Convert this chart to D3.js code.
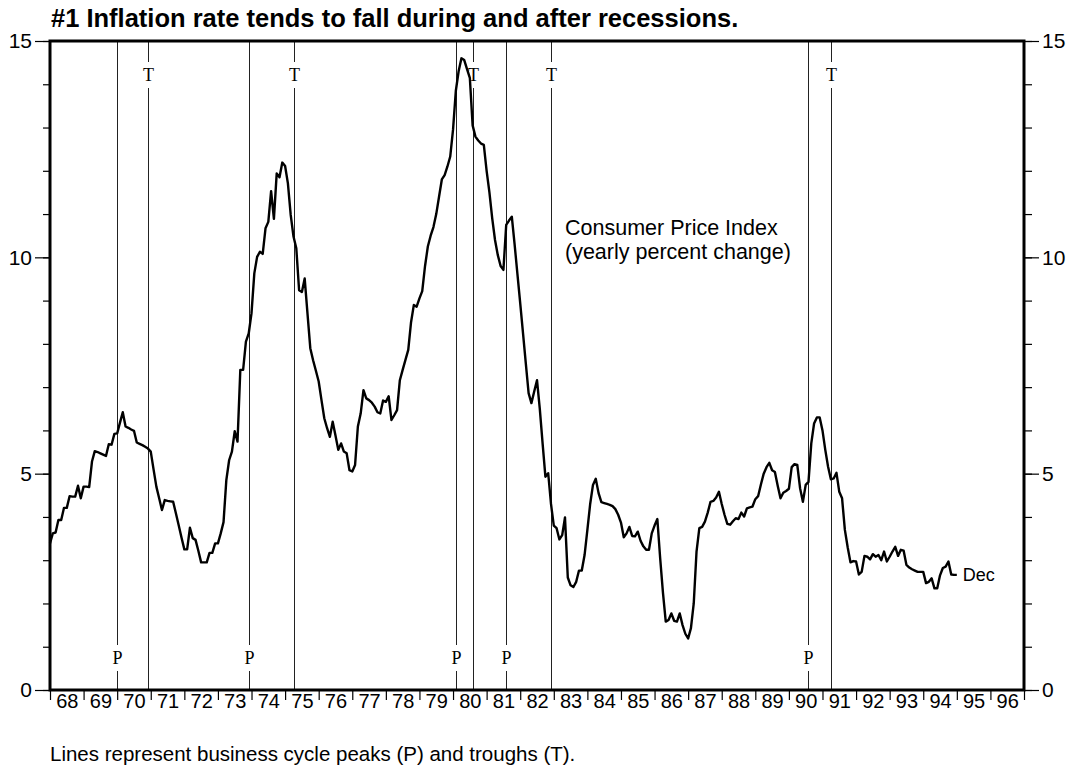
<!DOCTYPE html>
<html>
<head>
<meta charset="utf-8">
<script src="https://cdn.jsdelivr.net/npm/d3@7/dist/d3.min.js"></script>
<style>
  body { margin: 0; background: #fff; }
  text { font-family: "Liberation Sans", Arial, sans-serif; fill: #000; }
</style>
</head>
<body>
<svg id="chart" width="1073" height="768"></svg>
<script>
// CPI, yearly percent change, one value per month.
// first value is Dec 1967 (sits on the left axis), then Jan 1968 .. Dec 1994
var cpiYoY = [
  3.39,
  3.62, 3.64, 3.93, 3.93, 4.21, 4.21, 4.48, 4.47, 4.47, 4.72, 4.43, 4.70, // 68
  4.70, 4.69, 5.28, 5.52, 5.50, 5.47, 5.44, 5.41, 5.68, 5.67, 5.92, 5.93, // 69
  6.18, 6.42, 6.09, 6.06, 6.02, 5.99, 5.72, 5.69, 5.66, 5.62, 5.58, 5.51, // 70
  5.10, 4.70, 4.43, 4.16, 4.39, 4.37, 4.36, 4.35, 4.08, 3.80, 3.52, 3.25, // 71
  3.25, 3.75, 3.51, 3.47, 3.22, 2.95, 2.95, 2.95, 3.17, 3.17, 3.39, 3.39, // 72
  3.62, 3.88, 4.85, 5.31, 5.51, 5.98, 5.74, 7.40, 7.40, 8.05, 8.24, 8.71, // 73
  9.63, 10.01, 10.13, 10.08, 10.67, 10.82, 11.53, 10.89, 11.94, 11.85, 12.19, 12.11, // 74
  11.71, 10.98, 10.48, 10.21, 9.24, 9.20, 9.51, 8.70, 7.90, 7.62, 7.38, 7.13, // 75
  6.70, 6.28, 6.05, 5.85, 6.20, 5.88, 5.55, 5.70, 5.51, 5.47, 5.08, 5.05, // 76
  5.20, 6.09, 6.39, 6.93, 6.74, 6.70, 6.64, 6.55, 6.42, 6.39, 6.69, 6.66, // 77
  6.79, 6.24, 6.35, 6.47, 7.16, 7.40, 7.63, 7.86, 8.50, 8.90, 8.86, 9.05, // 78
  9.22, 9.80, 10.25, 10.50, 10.70, 11.00, 11.40, 11.80, 11.90, 12.10, 12.33, 12.95, // 79
  13.85, 14.30, 14.60, 14.56, 14.35, 14.15, 13.05, 12.79, 12.70, 12.63, 12.60, 12.00, // 80
  11.50, 10.90, 10.40, 10.05, 9.80, 9.71, 10.75, 10.85, 10.94, 10.30, 9.62, 8.94, // 81
  8.25, 7.55, 6.86, 6.63, 6.90, 7.16, 6.50, 5.70, 4.93, 5.01, 4.30, 3.80, // 82
  3.74, 3.48, 3.58, 3.99, 2.60, 2.42, 2.38, 2.50, 2.76, 2.76, 3.12, 3.70, // 83
  4.30, 4.74, 4.88, 4.55, 4.34, 4.32, 4.30, 4.28, 4.25, 4.18, 4.05, 3.87, // 84
  3.53, 3.62, 3.77, 3.56, 3.55, 3.66, 3.45, 3.32, 3.24, 3.24, 3.62, 3.80, // 85
  3.95, 3.05, 2.25, 1.58, 1.62, 1.77, 1.60, 1.58, 1.77, 1.50, 1.30, 1.19, // 86
  1.43, 2.00, 3.20, 3.74, 3.77, 3.89, 4.10, 4.35, 4.37, 4.45, 4.58, 4.30, // 87
  4.05, 3.84, 3.82, 3.90, 3.97, 3.95, 4.10, 4.01, 4.20, 4.22, 4.24, 4.41, // 88
  4.48, 4.75, 5.00, 5.15, 5.25, 5.08, 5.04, 4.72, 4.43, 4.56, 4.60, 4.65, // 89
  5.15, 5.22, 5.20, 4.66, 4.35, 4.74, 4.81, 5.70, 6.16, 6.30, 6.30, 6.00, // 90
  5.55, 5.16, 4.87, 4.89, 5.02, 4.58, 4.43, 3.70, 3.30, 2.95, 2.98, 2.97, // 91
  2.67, 2.73, 3.10, 3.08, 3.02, 3.14, 3.08, 3.12, 3.00, 3.20, 2.97, 3.08, // 92
  3.20, 3.31, 3.10, 3.24, 3.22, 2.89, 2.83, 2.79, 2.76, 2.73, 2.73, 2.73, // 93
  2.47, 2.50, 2.58, 2.35, 2.35, 2.65, 2.82, 2.85, 2.97, 2.67, 2.66, 2.66  // 94
];
var seriesStart = 1968; // decimal year of cpiYoY[0]

// business cycle peaks and troughs (year, month)
var peaks = [[1969, 12], [1973, 11], [1980, 1], [1981, 7], [1990, 7]];
var troughs = [[1970, 11], [1975, 3], [1980, 7], [1982, 11], [1991, 3]];

var yearLabels = ["68","69","70","71","72","73","74","75","76","77","78","79","80","81","82",
                  "83","84","85","86","87","88","89","90","91","92","93","94","95","96"];
var yMajor = [0, 5, 10, 15];
var yMinor = d3.range(0, 16);

var svg = d3.select("#chart");
var L = 50, R = 1024, T = 41, B = 690;

var x = d3.scaleLinear().domain([1968, 1997]).range([L, R]);
var y = d3.scaleLinear().domain([0, 15]).range([B, T]);

// title
svg.append("text")
  .attr("x", 51).attr("y", 27)
  .attr("font-size", 25.5).attr("font-weight", "bold")
  .text("#1 Inflation rate tends to fall during and after recessions.");

// cycle lines, with a gap for the letter
function cycleLines(list, letter, labelY) {
  var g = svg.append("g");
  list.forEach(function (d) {
    var xx = Math.round(x(d[0] + d[1] / 12)) + 0.5;
    g.append("line").attr("x1", xx).attr("x2", xx).attr("y1", T).attr("y2", labelY - 13)
      .attr("stroke", "#222").attr("stroke-width", 1);
    g.append("line").attr("x1", xx).attr("x2", xx).attr("y1", labelY + 13).attr("y2", B)
      .attr("stroke", "#222").attr("stroke-width", 1);
    g.append("text").attr("x", xx).attr("y", labelY)
      .attr("text-anchor", "middle").attr("dominant-baseline", "central")
      .style("font-family", "'Liberation Serif', 'Times New Roman', serif")
      .attr("font-size", 18).text(letter);
  });
}
cycleLines(troughs, "T", 75);
cycleLines(peaks, "P", 658);

// CPI curve
var line = d3.line()
  .x(function (d, i) { return x(seriesStart + i / 12); })
  .y(function (d) { return y(d); });

svg.append("path").datum(cpiYoY)
  .attr("d", line)
  .attr("fill", "none").attr("stroke", "#000")
  .attr("stroke-width", 2.4).attr("stroke-linejoin", "round");

// end label
svg.append("text")
  .attr("x", x(seriesStart + (cpiYoY.length - 1) / 12) + 6)
  .attr("y", y(cpiYoY[cpiYoY.length - 1]))
  .attr("dominant-baseline", "central")
  .attr("font-size", 18).text("Dec");

// series label
svg.append("text").attr("x", 565).attr("y", 235).attr("font-size", 21.5).text("Consumer Price Index");
svg.append("text").attr("x", 565).attr("y", 259).attr("font-size", 21.5).text("(yearly percent change)");

// y axes: minor and major ticks on both sides
function styleAxis(g, size) {
  g.select(".domain").remove();
  g.selectAll(".tick line").attr("stroke", "#000").attr("stroke-width", 1.2);
  g.selectAll(".tick text").attr("font-size", size).style("font-family", "'Liberation Sans', Arial, sans-serif");
}
svg.append("g").attr("transform", "translate(" + L + ",0)")
  .call(d3.axisLeft(y).tickValues(yMinor).tickSize(7).tickFormat(""))
  .call(styleAxis, 21);
svg.append("g").attr("transform", "translate(" + L + ",0)")
  .call(d3.axisLeft(y).tickValues(yMajor).tickSize(15).tickPadding(3).tickFormat(d3.format("d")))
  .call(styleAxis, 21);
svg.append("g").attr("transform", "translate(" + R + ",0)")
  .call(d3.axisRight(y).tickValues(yMinor).tickSize(8).tickFormat(""))
  .call(styleAxis, 21);
svg.append("g").attr("transform", "translate(" + R + ",0)")
  .call(d3.axisRight(y).tickValues(yMajor).tickSize(15).tickPadding(3).tickFormat(d3.format("d")))
  .call(styleAxis, 21);

// x axis: ticks at year boundaries, labels centred in each year
svg.append("g").attr("transform", "translate(0," + B + ")")
  .call(d3.axisBottom(x).tickValues(d3.range(1968, 1998)).tickSize(10).tickFormat(""))
  .call(styleAxis, 20);
svg.append("g").attr("transform", "translate(0," + B + ")")
  .call(d3.axisBottom(x).tickValues(d3.range(1968, 1997).map(function (v) { return v + 0.5; }))
    .tickSize(0).tickPadding(4)
    .tickFormat(function (d, i) { return yearLabels[i]; }))
  .call(styleAxis, 20);

// heavy frame
svg.append("rect")
  .attr("x", L).attr("y", T).attr("width", R - L).attr("height", B - T)
  .attr("fill", "none").attr("stroke", "#000").attr("stroke-width", 3);

// footnote
svg.append("text").attr("x", 50).attr("y", 761).attr("font-size", 20.5)
  .text("Lines represent business cycle peaks (P) and troughs (T).");
</script>
</body>
</html>
